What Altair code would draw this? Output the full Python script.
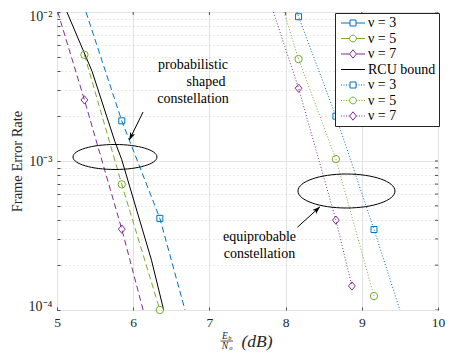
import altair as alt
import pandas as pd

SERIF = "Liberation Serif"

# ---------------- data ----------------
SERIES = ["PS3", "PS5", "PS7", "RCU", "EP3", "EP5", "EP7"]
COLORS = ["#0072BD", "#77AC30", "#7E2F8E", "#000000", "#0072BD", "#77AC30", "#7E2F8E"]

# probabilistic shaped constellation (dashed)
ps3_x = [5.38, 5.85, 6.35, 6.68]
ps3_y = [1.0e-2, 1.86e-3, 4.12e-4, 1.0e-4]
ps5_x = [5.36, 5.85, 6.35]
ps5_y = [5.16e-3, 6.97e-4, 1.0e-4]
ps7_x = [5.01, 5.36, 5.85, 6.13]
ps7_y = [1.0e-2, 2.57e-3, 3.49e-4, 1.0e-4]
# RCU bound (solid)
rcu_x = [5.13, 5.46, 5.76, 5.85, 6.24, 6.40]
rcu_y = [1.0e-2, 4.0e-3, 1.35e-3, 1.02e-3, 2.16e-4, 1.0e-4]
# equiprobable constellation (dotted)
ep3_x = [8.15, 8.17, 8.66, 9.16, 9.50]
ep3_y = [1.0e-2, 9.3e-3, 2.0e-3, 3.47e-4, 1.0e-4]
ep5_x = [7.98, 8.17, 8.66, 9.16]
ep5_y = [1.0e-2, 4.83e-3, 1.03e-3, 1.24e-4]
ep7_x = [7.84, 8.17, 8.66, 8.87]
ep7_y = [1.0e-2, 3.08e-3, 4.01e-4, 1.45e-4]

# marker positions
ps3_mx = [5.85, 6.35]
ps3_my = [1.86e-3, 4.12e-4]
ps5_mx = [5.36, 5.85, 6.35]
ps5_my = [5.16e-3, 6.97e-4, 1.0e-4]
ps7_mx = [5.36, 5.85]
ps7_my = [2.57e-3, 3.49e-4]
ep3_mx = [8.17, 8.66, 9.16]
ep3_my = [9.3e-3, 2.0e-3, 3.47e-4]
ep5_mx = [8.17, 8.66, 9.16]
ep5_my = [4.83e-3, 1.03e-3, 1.24e-4]
ep7_mx = [8.17, 8.66, 8.87]
ep7_my = [3.08e-3, 4.01e-4, 1.45e-4]

# axis ticks
x_ticks = [5, 6, 7, 8, 9, 10]
y_ticks = [0.0001, 0.0002, 0.0003, 0.0004, 0.0005, 0.0006, 0.0007, 0.0008, 0.0009,
           0.001, 0.002, 0.003, 0.004, 0.005, 0.006, 0.007, 0.008, 0.009, 0.01]


def tab(xs_, ys_):
    return pd.DataFrame({"x": xs_, "y": ys_})


ONE = pd.DataFrame({"k": [0]})

# ---------------- scales / axes ----------------
xs = alt.Scale(domain=[5, 10], nice=False, zero=False)
ys = alt.Scale(type="log", domain=[1e-4, 1e-2], nice=False)

AX_COL = "#4d4d4d"
MAJOR = "datum.value == 0.01 || datum.value == 0.001 || datum.value == 0.0001"
YLAB = ("datum.value == 0.01 ? '10\u207b\u00b2' : datum.value == 0.001 ? '10\u207b\u00b3' : "
        "datum.value == 0.0001 ? '10\u207b\u2074' : ''")

XAX = alt.Axis(values=x_ticks, title=None, grid=True, gridColor="#e3e3e3", gridWidth=1,
               domain=False, ticks=True, tickSize=3, tickColor=AX_COL, offset=-3,
               labelPadding=5, labelFont=SERIF, labelFontSize=13.5, labelColor="#262626",
               labelFlush=False, labelOverlap=False, format="d")
YAX = alt.Axis(values=y_ticks, title="Frame Error Rate", titleFont=SERIF, titleFontSize=14.5,
               titleFontWeight="normal", titleColor="#262626", titlePadding=4,
               grid=True, gridWidth=1,
               gridColor={"condition": {"test": MAJOR, "value": "#e3e3e3"}, "value": "#d2d2d2"},
               gridDash={"condition": {"test": MAJOR, "value": []}, "value": [1, 3]},
               domain=False, ticks=True, tickSize=3, tickColor=AX_COL, offset=-3,
               labelPadding=5, labelExpr=YLAB, labelFont=SERIF, labelFontSize=14,
               labelColor="#262626", labelFlush=True, labelFlushOffset=3, labelOverlap=False)


def fx(field="x:Q"):
    return alt.X(field, scale=xs, axis=XAX)


def fy(field="y:Q"):
    return alt.Y(field, scale=ys, axis=YAX)


def dx(v):
    return alt.XDatum(v, scale=xs, axis=XAX)


def dy(v):
    return alt.YDatum(v, scale=ys, axis=YAX)


# ---------------- shapes ----------------
K = 0.5523


def ellipse_path(k):
    a = K
    b = K * k
    return (f"M1,0C1,{b:.4f} {a:.4f},{k:.4f} 0,{k:.4f}"
            f"C{-a:.4f},{k:.4f} -1,{b:.4f} -1,0"
            f"C-1,{-b:.4f} {-a:.4f},{-k:.4f} 0,{-k:.4f}"
            f"C{a:.4f},{-k:.4f} 1,{-b:.4f} 1,0Z")


def hseg(a, b, dotted):
    if not dotted:
        return f"M{a},0H{b}"
    out = []
    t = a
    while t < b - 0.05:
        out.append(f"M{t:.3f},0H{min(t + 0.25, b):.3f}")
        t += 0.625
    return "".join(out)


def circ(cx, r):
    k = K * r
    return (f"M{cx + r:.3f},0C{cx + r:.3f},{k:.3f} {cx + k:.3f},{r:.3f} {cx:.3f},{r:.3f}"
            f"C{cx - k:.3f},{r:.3f} {cx - r:.3f},{k:.3f} {cx - r:.3f},0"
            f"C{cx - r:.3f},{-k:.3f} {cx - k:.3f},{-r:.3f} {cx:.3f},{-r:.3f}"
            f"C{cx + k:.3f},{-r:.3f} {cx + r:.3f},{-k:.3f} {cx + r:.3f},0Z")


LEG_SQ = "M1.25,-0.75H2.75V0.75H1.25Z"
LEG_CI = circ(2, 0.85)
LEG_DI = "M2,-1.05L2.85,0L2,1.05L1.15,0Z"


def leg(marker, half, dotted):
    return hseg(-1, 2 - half, dotted) + hseg(2 + half, 5, dotted) + marker


LEG_PATHS = [leg(LEG_SQ, 0.75, False), leg(LEG_CI, 0.85, False), leg(LEG_DI, 0.85, False),
             "M-1,0H5",
             leg(LEG_SQ, 0.75, True), leg(LEG_CI, 0.85, True), leg(LEG_DI, 0.85, True)]

DIAMOND = "M0,-1.15L0.95,0L0,1.15L-0.95,0Z"
ARROW = "M0,0L0.6,1.7L0,1.3L-0.6,1.7Z"

LEGEND = alt.Legend(title=None, orient="none", legendX=278, legendY=1, fillColor="white",
                    strokeColor="#262626", padding=3, rowPadding=1.5, labelFont=SERIF,
                    labelFontSize=14, labelColor="black", labelOffset=16, symbolSize=64,
                    symbolStrokeWidth=1, labelLimit=0,
                    labelExpr="datum.label == 'RCU' ? 'RCU bound' : '\u03bd = ' + substring(datum.label, 2)")

# ---------------- layers ----------------
legend_layer = alt.Chart(alt.Data(values=[])).mark_point(filled=False, size=64, strokeWidth=1, opacity=1).encode(
    color=alt.Color("series:N", scale=alt.Scale(domain=SERIES, range=COLORS), legend=LEGEND),
    shape=alt.Shape("series:N", scale=alt.Scale(domain=SERIES, range=LEG_PATHS), legend=LEGEND),
)

# inward ticks on the top and right edges of the box
right_ticks = alt.Chart(pd.DataFrame({"v": y_ticks})).mark_tick(
    orient="horizontal", size=6, thickness=1, color=AX_COL, clip=True, opacity=1).encode(
    x=dx(10), y=fy("v:Q"))
top_ticks = alt.Chart(pd.DataFrame({"v": x_ticks})).mark_tick(
    orient="vertical", size=6, thickness=1, color=AX_COL, clip=True, opacity=1).encode(
    x=fx("v:Q"), y=dy(1e-2))


def line(xv, yv, color, dash=None):
    kw = {"strokeDash": dash} if dash else {}
    return alt.Chart(tab(xv, yv)).mark_line(color=color, strokeWidth=1, clip=True, **kw).encode(
        x=fx(), y=fy())


def markers(xv, yv, color, shape, size):
    return alt.Chart(tab(xv, yv)).mark_point(shape=shape, size=size, filled=False, color=color,
                                             strokeWidth=1, opacity=1).encode(x=fx(), y=fy())


def ellipse(cx, cy, rx, ry):
    return alt.Chart(ONE).mark_point(shape=ellipse_path(ry / rx), size=(2 * rx) ** 2, filled=False,
                                      color="black", strokeWidth=1, opacity=1).encode(x=dx(cx), y=dy(cy))


def arrow(x0, y0, x1, y1, angle):
    shaft = alt.Chart(ONE).mark_rule(color="black", strokeWidth=1).encode(
        x=dx(x0), y=dy(y0), x2=alt.datum(x1), y2=alt.datum(y1))
    head = alt.Chart(ONE).mark_point(shape=ARROW, size=81, filled=True, color="black",
                                     angle=angle, opacity=1).encode(x=dx(x1), y=dy(y1))
    return [shaft, head]


def note(text, x, y, size=14):
    return alt.Chart(ONE).mark_text(text=text, font=SERIF, fontSize=size, color="black",
                                    align="center", baseline="middle").encode(x=dx(x), y=dy(y))


def xtitle(text, x, py, size, italic=True):
    return alt.Chart(ONE).mark_text(text=text, font=SERIF, fontSize=size, color="#262626",
                                    fontStyle="italic" if italic else "normal",
                                    align="center", baseline="middle").encode(x=dx(x), y=alt.value(py))


frac_bar = alt.Chart(ONE).mark_rule(color="#262626", strokeWidth=0.8).encode(
    x=dx(7.146), x2=alt.datum(7.310), y=alt.value(329))

DASH = [6, 3.5]
DOT = [1, 2]
B, G, P = COLORS[0], COLORS[1], COLORS[2]

layers = [legend_layer, right_ticks, top_ticks,
          line(ps3_x, ps3_y, B, DASH), line(ps5_x, ps5_y, G, DASH), line(ps7_x, ps7_y, P, DASH),
          line(rcu_x, rcu_y, "black"),
          line(ep3_x, ep3_y, B, DOT), line(ep5_x, ep5_y, G, DOT), line(ep7_x, ep7_y, P, DOT),
          markers(ps3_mx, ps3_my, B, "square", 36), markers(ep3_mx, ep3_my, B, "square", 36),
          markers(ps5_mx, ps5_my, G, "circle", 54), markers(ep5_mx, ep5_my, G, "circle", 54),
          markers(ps7_mx, ps7_my, P, DIAMOND, 52), markers(ep7_mx, ep7_my, P, DIAMOND, 52),
          ellipse(5.761, 1.064e-3, 42, 12.5), ellipse(8.799, 6.29e-4, 48.5, 17),
          *arrow(6.129, 2.13e-3, 5.949, 1.383e-3, 206),
          *arrow(8.154, 3.59e-4, 8.451, 4.93e-4, 48),
          note("probabilistic", 6.785, 4.41e-3), note("shaped", 6.955, 3.39e-3),
          note("constellation", 6.785, 2.61e-3),
          note("equiprobable", 7.657, 3.09e-4), note("constellation", 7.657, 2.38e-4),
          xtitle("E", 7.203, 324, 9.5), xtitle("b", 7.27, 326, 6.5),
          xtitle("N", 7.205, 334, 9.5), xtitle("o", 7.281, 336, 6.5),
          frac_bar, xtitle("(dB)", 7.625, 330, 17.5)]

chart = alt.layer(*layers).properties(
    width=381, height=298,
    autosize=alt.AutoSizeParams(type="none"),
    padding={"left": 49, "top": 4, "right": 13, "bottom": 42},
    background="white",
).configure_view(stroke=AX_COL, strokeWidth=1)

chart.save("out.html", embed_options={"renderer": "svg", "actions": False})
